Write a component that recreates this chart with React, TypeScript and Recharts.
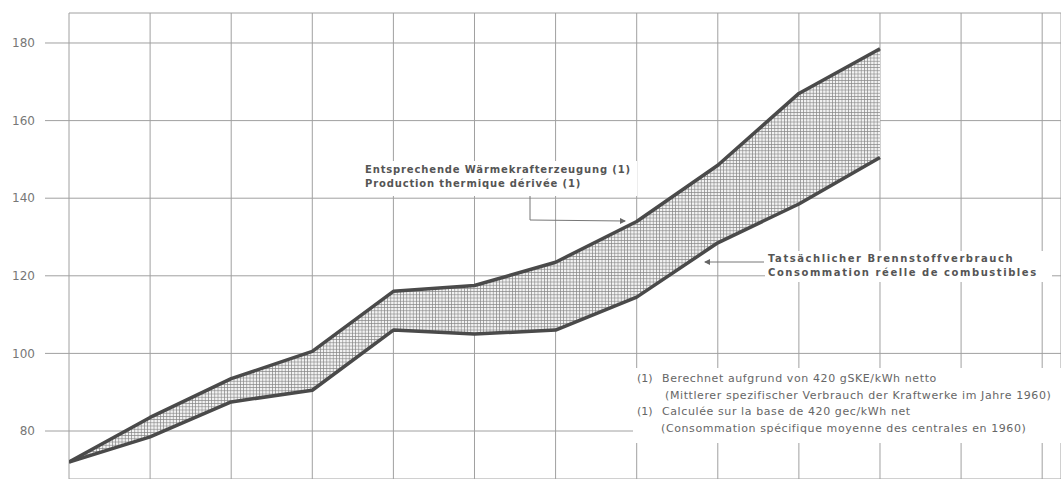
import React from 'react';
import { ComposedChart, Line, Area, XAxis, YAxis, CartesianGrid } from 'recharts';

const years = [1960, 1961, 1962, 1963, 1964, 1965, 1966, 1967, 1968, 1969, 1970];
const gridYears = [1960, 1961, 1962, 1963, 1964, 1965, 1966, 1967, 1968, 1969, 1970, 1971, 1972];
const theoretical = [72, 83.5, 93.5, 100.5, 116, 117.5, 123.5, 134, 148.5, 167, 178.5];
const actual = [72, 78.5, 87.5, 90.5, 106, 105, 106, 114.5, 128.5, 138.5, 150.5];
const yTicks = [80, 100, 120, 140, 160, 180];

const labelTheoDe = 'Entsprechende Wärmekrafterzeugung (1)';
const labelTheoFr = 'Production thermique dérivée (1)';
const labelActDe = 'Tatsächlicher Brennstoffverbrauch';
const labelActFr = 'Consommation réelle de combustibles';
const noteMark = '(1)';
const notes = [
  'Berechnet aufgrund von 420 gSKE/kWh netto',
  '(Mittlerer spezifischer Verbrauch der Kraftwerke im Jahre 1960)',
  'Calculée sur la base de 420 gec/kWh net',
  '(Consommation spécifique moyenne des centrales en 1960)',
];

const data = years.map((y, i) => ({
  year: y,
  upper: theoretical[i],
  lower: actual[i],
  band: [actual[i], theoretical[i]],
}));

const W = 1061;
const H = 479;
const ink = '#4a4a4a';
const font = '"DejaVu Sans", Arial, sans-serif';

const box: React.CSSProperties = {
  position: 'absolute',
  background: '#fff',
  color: '#555',
  fontFamily: font,
  whiteSpace: 'nowrap',
};

export default function App() {
  return (
    <div style={{ position: 'absolute', left: 0, top: 0, width: W, height: H, background: '#fff', overflow: 'hidden' }}>
      <ComposedChart width={W} height={H} data={data} margin={{ top: 13, right: 0, bottom: 0, left: 0 }}>
        <defs>
          <pattern id="hatch" width="3.2" height="3.2" patternUnits="userSpaceOnUse">
            <rect width="3.2" height="3.2" fill="#f2f2f2" />
            <path d="M0 0.3 H3.2 M0.3 0 V3.2" stroke="#858585" strokeWidth="0.75" />
          </pattern>
        </defs>
        <CartesianGrid stroke="#a0a0a0" strokeWidth={1} />
        <XAxis
          dataKey="year"
          type="number"
          domain={[1960, 1972.232]}
          ticks={gridYears}
          allowDataOverflow
          hide
        />
        <YAxis
          type="number"
          domain={[67.63, 187.73]}
          ticks={yTicks}
          allowDataOverflow
          width={69}
          axisLine={false}
          tickSize={24}
          tickMargin={10}
          tickLine={{ stroke: '#a0a0a0' }}
          tick={{ fill: '#777', fontSize: 12, fontFamily: font }}
        />
        <Area
          type="linear"
          dataKey="band"
          stroke="none"
          fill="url(#hatch)"
          fillOpacity={1}
          isAnimationActive={false}
        />
        <Line type="linear" dataKey="upper" stroke={ink} strokeWidth={3.5} dot={false} strokeLinejoin="round" isAnimationActive={false} />
        <Line type="linear" dataKey="lower" stroke={ink} strokeWidth={3.5} dot={false} strokeLinejoin="round" isAnimationActive={false} />
      </ComposedChart>

      <svg width={W} height={H} style={{ position: 'absolute', left: 0, top: 0, pointerEvents: 'none' }}>
        <defs>
          <marker id="arr" markerWidth="6" markerHeight="6" refX="5" refY="3" orient="auto">
            <path d="M0 0 L6 3 L0 6 z" fill="#666" />
          </marker>
        </defs>
        <polyline points="530,196 530,220 625,221" fill="none" stroke="#777" strokeWidth={1} markerEnd="url(#arr)" />
        <line x1={764} y1={262} x2={705} y2={262} stroke="#777" strokeWidth={1} markerEnd="url(#arr)" />
      </svg>

      <div style={{ ...box, left: 365, top: 161, width: 272, height: 33, fontSize: 10, fontWeight: 'bold', letterSpacing: 0.85, lineHeight: '14px', paddingTop: 2 }}>
        <div>{labelTheoDe}</div>
        <div>{labelTheoFr}</div>
      </div>

      <div style={{ ...box, left: 765, top: 251, width: 284, height: 30, fontSize: 10, fontWeight: 'bold', letterSpacing: 1.55, lineHeight: '14px', paddingLeft: 3, paddingTop: 1 }}>
        <div>{labelActDe}</div>
        <div>{labelActFr}</div>
      </div>

      <div style={{ ...box, left: 633, top: 368, width: 428, height: 72, fontSize: 11, lineHeight: '16.5px', letterSpacing: 0.6, paddingLeft: 4, paddingTop: 3, color: '#666' }}>
        <div><span style={{ display: 'inline-block', width: 25, letterSpacing: 0 }}>{noteMark}</span>{notes[0]}</div>
        <div style={{ paddingLeft: 28 }}>{notes[1]}</div>
        <div><span style={{ display: 'inline-block', width: 25, letterSpacing: 0 }}>{noteMark}</span>{notes[2]}</div>
        <div style={{ paddingLeft: 24 }}>{notes[3]}</div>
      </div>
    </div>
  );
}
